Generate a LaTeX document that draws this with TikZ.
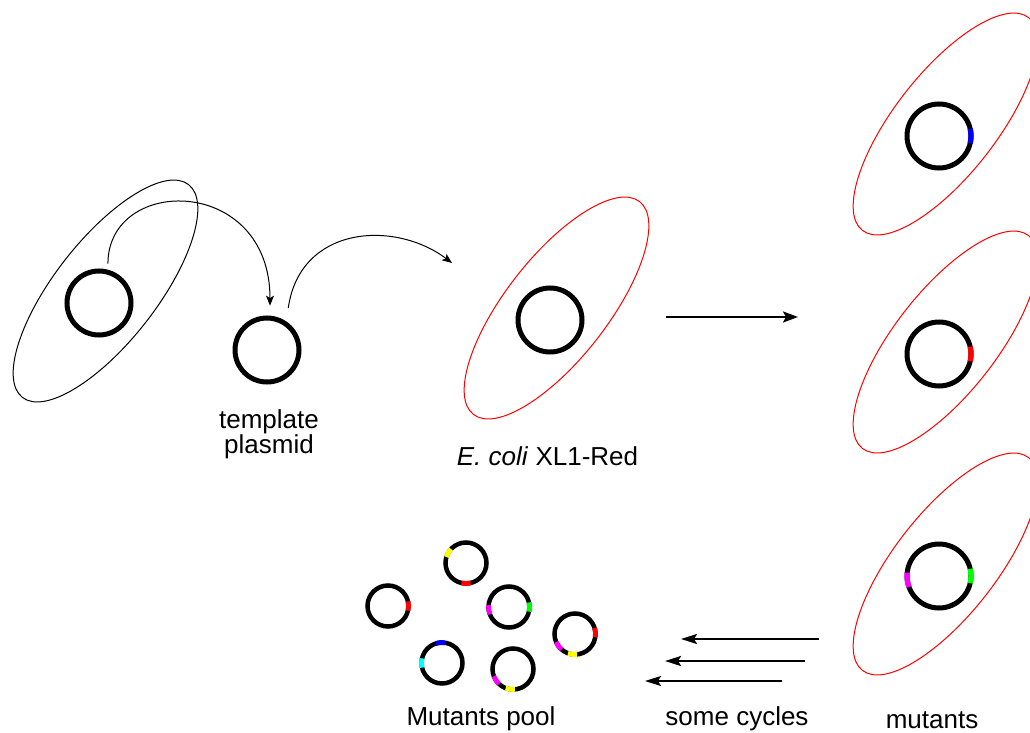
\documentclass[tikz,border=0pt]{standalone}
\usepackage{fontspec}
\setmainfont{Liberation Sans}
\usetikzlibrary{shapes.geometric,arrows.meta}

\definecolor{mkred}{RGB}{255,0,0}
\definecolor{mkblue}{RGB}{0,0,255}
\definecolor{mkgreen}{RGB}{0,255,0}
\definecolor{mkmagenta}{RGB}{255,0,255}
\definecolor{mkyellow}{RGB}{255,255,0}
\definecolor{mkcyan}{RGB}{0,255,255}

% coloured mutation mark on a plasmid ring: node, colour, angle, radius, width
\newcommand\pmark[5]{%
  \draw[#2, line width=#5] ([shift={(#3-13:#4)}]#1.center)
    arc[start angle=#3-13, end angle=#3+13, radius=#4];}

\begin{document}
\begin{tikzpicture}[x=1pt,y=1pt,
  cell/.style={ellipse, draw=mkred, line width=1pt, minimum width=270pt,
    minimum height=102pt, inner sep=0pt, rotate=52},
  hostcell/.style={cell, draw=black},
  plasmid/.style={circle, draw=black, line width=5pt, minimum size=64pt, inner sep=0pt},
  miniplasmid/.style={circle, draw=black, line width=4.5pt, minimum size=41pt, inner sep=0pt},
  caption/.style={font=\fontsize{26}{25}\selectfont, inner sep=0pt, anchor=base, align=center},
  transfer/.style={line width=1pt, -{Stealth[length=10pt,width=8pt,inset=2.5pt]}},
  growarrow/.style={line width=2.2pt, -{Stealth[length=15pt,width=11pt,inset=3pt]}},
  cyclearrow/.style={-{Stealth[length=16pt,width=10pt,inset=3pt]}},
]
\useasboundingbox (0,0) rectangle (1030,-733);

% cells
\node[hostcell] (host) at (105.5,-291) {};
\node[cell] (xlred) at (556.5,-308) {};
\node[cell] (mutA) at (945.5,-124) {};
\node[cell] (mutB) at (945.5,-342) {};
\node[cell] (mutC) at (945.5,-564) {};

% large plasmids
\node[plasmid] (p0) at (99,-303) {};
\node[plasmid] (p1) at (267,-350) {};
\node[plasmid] (p2) at (550,-320) {};
\node[plasmid] (r1) at (939,-136) {};
\node[plasmid] (r2) at (939,-354) {};
\node[plasmid] (r3) at (939,-576) {};
\pmark{r1}{mkblue}{0}{32}{5.3pt}
\pmark{r2}{mkred}{0}{32}{5.3pt}
\pmark{r3}{mkgreen}{0}{32}{5.3pt}
\pmark{r3}{mkmagenta}{187}{32}{5.3pt}

% pool of mutant plasmids
\node[miniplasmid] (s1) at (388,-606) {};
\node[miniplasmid] (s2) at (466,-563) {};
\node[miniplasmid] (s3) at (509,-607) {};
\node[miniplasmid] (s4) at (575,-634) {};
\node[miniplasmid] (s5) at (442,-663) {};
\node[miniplasmid] (s6) at (513,-669) {};
\pmark{s1}{mkred}{0}{20.5}{4.8pt}
\pmark{s2}{mkyellow}{150}{20.5}{4.8pt}
\pmark{s2}{mkred}{270}{20.5}{4.8pt}
\pmark{s3}{mkmagenta}{188}{20.5}{4.8pt}
\pmark{s3}{mkgreen}{0}{20.5}{4.8pt}
\pmark{s4}{mkred}{4}{20.5}{4.8pt}
\pmark{s4}{mkmagenta}{216}{20.5}{4.8pt}
\pmark{s4}{mkyellow}{263}{20.5}{4.8pt}
\pmark{s5}{mkblue}{95}{20.5}{4.8pt}
\pmark{s5}{mkcyan}{180}{20.5}{4.8pt}
\pmark{s6}{mkmagenta}{214}{20.5}{4.8pt}
\pmark{s6}{mkyellow}{262}{20.5}{4.8pt}

% captions (base anchor of a two-line caption sits on its last line)
\node[caption] (tpl) at (269,-453) {template\\plasmid};
\node[caption] (ecoli) at (547.5,-465) {\textit{E. coli} XL1-Red};
\node[caption] (pool) at (481,-725) {Mutants pool};
\node[caption] (cyc) at (737,-725) {some cycles};
\node[caption] (mut) at (932,-728) {mutants};

% free arrow ends
\coordinate (intoRed) at (452,-263);
\coordinate (gA) at (666,-317);
\coordinate (gB) at (798,-317);
\coordinate (c1s) at (819,-639);
\coordinate (c1e) at (681,-639);
\coordinate (c2s) at (805,-661);
\coordinate (c2e) at (665,-661);
\coordinate (c3s) at (782,-681);
\coordinate (c3e) at (645,-681);

% connectors
\draw[transfer] ([yshift=6pt]p0.75) .. controls (108,-175) and (270,-175) .. ([yshift=10pt]p1.85);
\draw[transfer] ([xshift=4pt,yshift=12pt]p1.60) .. controls (300,-225) and (395,-220) .. (intoRed);
\draw[growarrow] (gA) -- (gB);
\draw[cyclearrow, line width=2pt] (c1s) -- (c1e);
\draw[cyclearrow, line width=2.5pt] (c2s) -- (c2e);
\draw[cyclearrow, line width=1.5pt] (c3s) -- (c3e);
\end{tikzpicture}
\end{document}
